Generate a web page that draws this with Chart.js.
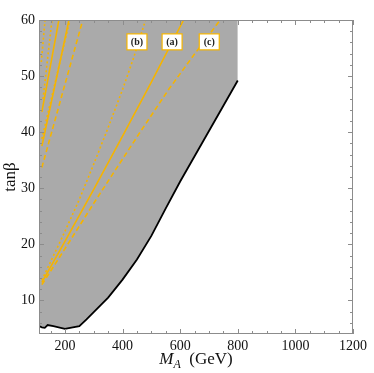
<!DOCTYPE html>
<html>
<head>
<meta charset="utf-8">
<script src="https://cdn.jsdelivr.net/npm/chart.js@4/dist/chart.umd.min.js"></script>
<style>
  html, body { margin: 0; padding: 0; background: #fff; }
  #wrap { width: 374px; height: 373px; }
</style>
</head>
<body>
<div id="wrap"><canvas id="myChart" width="374" height="373"></canvas></div>
<script>
// excluded region boundary (black line, grey above it)
const boundaryMA = [110, 120, 130, 140, 160, 200, 250, 275, 300, 350, 400, 450, 500, 550, 600, 650, 700, 750, 800];
const boundaryTanb = [5.4, 5.2, 5.1, 5.6, 5.4, 4.9, 5.4, 6.6, 7.9, 10.5, 13.7, 17.3, 21.5, 26.4, 31.2, 35.7, 40.2, 44.7, 49.2];

// lower set of orange curves
const curveB_MA = [120, 200, 250, 300, 350, 400, 440, 480];
const curveB_Tanb = [13.6, 22.3, 28.0, 34.3, 40.8, 47.6, 53.5, 60];
const curveA_MA = [120, 200, 300, 400, 500, 612];
const curveA_Tanb = [13.2, 20.5, 29.8, 39.3, 48.9, 60];
const curveC_MA = [120, 200, 311, 461, 560, 635, 739];
const curveC_Tanb = [12.8, 19.2, 28.2, 40.0, 47.6, 52.9, 60];

// upper-left set of orange curves
const upDot1_MA = [118, 131];   const upDot1_Tanb = [52.5, 60];
const upDot2_MA = [124, 155];   const upDot2_Tanb = [45.9, 60];
const upSolid1_MA = [120, 179]; const upSolid1_Tanb = [43.6, 60];
const upSolid2_MA = [120, 214]; const upSolid2_Tanb = [37.5, 60];
const upDot3_MA = [120, 217];   const upDot3_Tanb = [38.8, 60];
const upDash_MA = [120, 262];   const upDash_Tanb = [33.7, 60];

const labelText = ['(b)', '(a)', '(c)'];
const labelMA = [450, 572, 701];
const labelTanb = [56.1, 56.1, 56.1];

const xTicks = [200, 400, 600, 800, 1000, 1200];
const yTicks = [10, 20, 30, 40, 50, 60];

const orange = '#f5b400';
const pts = (xs, ys) => xs.map((x, i) => ({ x: x, y: ys[i] }));

function curve(xs, ys, dash) {
    return {
        data: pts(xs, ys),
        showLine: true,
        borderColor: orange,
        borderWidth: 1.6,
        borderDash: dash,
        pointRadius: 0,
        fill: false,
        order: 1
    };
}

const dotted = [2, 2.5];
const dashed = [5, 3];

// inside ticks on all four sides, Mathematica style frame
const frameTicks = {
    id: 'frameTicks',
    afterDatasetsDraw(chart) {
        const { ctx, chartArea: a, scales: { x, y } } = chart;
        ctx.save();
        ctx.strokeStyle = '#8c8c8c';
        ctx.lineWidth = 1;
        ctx.strokeRect(a.left + 0.5, a.top + 0.5, a.right - a.left - 1, a.bottom - a.top - 1);
        for (let v = 150; v <= 1200; v += 50) {
            const px = Math.round(x.getPixelForValue(v)) + 0.5;
            const len = v % 200 === 0 ? 5 : 3;
            ctx.beginPath();
            ctx.moveTo(px, a.bottom); ctx.lineTo(px, a.bottom - len);
            ctx.moveTo(px, a.top); ctx.lineTo(px, a.top + len);
            ctx.stroke();
        }
        for (let v = 6; v <= 60; v += 2) {
            const py = Math.round(y.getPixelForValue(v)) + 0.5;
            const len = v % 10 === 0 ? 5 : 3;
            ctx.beginPath();
            ctx.moveTo(a.left, py); ctx.lineTo(a.left + len, py);
            ctx.moveTo(a.right, py); ctx.lineTo(a.right - len, py);
            ctx.stroke();
        }
        ctx.restore();
    }
};

const boxLabels = {
    id: 'boxLabels',
    afterDatasetsDraw(chart) {
        const { ctx, scales: { x, y } } = chart;
        ctx.save();
        ctx.font = 'bold 10px "Liberation Serif"';
        ctx.textAlign = 'center';
        ctx.textBaseline = 'middle';
        labelText.forEach((t, i) => {
            const cx = x.getPixelForValue(labelMA[i]);
            const cy = y.getPixelForValue(labelTanb[i]);
            ctx.fillStyle = '#fff';
            ctx.fillRect(cx - 10, cy - 8, 20, 16);
            ctx.strokeStyle = orange;
            ctx.lineWidth = 1.2;
            ctx.strokeRect(cx - 10, cy - 8, 20, 16);
            ctx.fillStyle = '#222';
            ctx.fillText(t, cx, cy + 0.5);
        });
        ctx.restore();
    }
};

const xTitle = {
    id: 'xTitle',
    afterDraw(chart) {
        const { ctx, chartArea: a } = chart;
        const cx = (a.left + a.right) / 2;
        const by = 364;
        ctx.save();
        ctx.fillStyle = '#111';
        ctx.textBaseline = 'alphabetic';
        const fM = 'italic 17px "Liberation Serif"';
        const fA = 'italic 12px "Liberation Serif"';
        const fG = '17px "Liberation Serif"';
        ctx.font = fM; const wM = ctx.measureText('M').width;
        ctx.font = fA; const wA = ctx.measureText('A').width;
        ctx.font = fG; const wG = ctx.measureText('  (GeV)').width;
        let sx = cx - (wM + wA + wG) / 2;
        ctx.textAlign = 'left';
        ctx.font = fM; ctx.fillText('M', sx, by); sx += wM;
        ctx.font = fA; ctx.fillText('A', sx, by + 4); sx += wA;
        ctx.font = fG; ctx.fillText('  (GeV)', sx, by);
        ctx.restore();
    }
};

const ctx = document.getElementById('myChart').getContext('2d');

const myChart = new Chart(ctx, {
    type: 'scatter',
    data: {
        datasets: [
            curve(curveB_MA, curveB_Tanb, dotted),
            curve(curveA_MA, curveA_Tanb, []),
            curve(curveC_MA, curveC_Tanb, dashed),
            curve(upDot1_MA, upDot1_Tanb, dotted),
            curve(upDot2_MA, upDot2_Tanb, dotted),
            curve(upSolid1_MA, upSolid1_Tanb, []),
            curve(upSolid2_MA, upSolid2_Tanb, []),
            curve(upDot3_MA, upDot3_Tanb, dotted),
            curve(upDash_MA, upDash_Tanb, dashed),
            {
                data: pts(boundaryMA, boundaryTanb),
                showLine: true,
                borderColor: '#000',
                borderWidth: 1.8,
                backgroundColor: '#aaaaaa',
                pointRadius: 0,
                fill: 'end',
                order: 10
            }
        ]
    },
    options: {
        responsive: false,
        animation: false,
        layout: { padding: { left: 0, right: 21, top: 20, bottom: 0 } },
        plugins: {
            legend: { display: false },
            tooltip: { enabled: false }
        },
        scales: {
            x: {
                type: 'linear',
                min: 110,
                max: 1200,
                afterBuildTicks: s => { s.ticks = xTicks.map(v => ({ value: v })); },
                afterFit: s => { s.height = 39; },
                grid: { display: false, drawTicks: false },
                border: { display: false },
                ticks: {
                    padding: 4,
                    maxRotation: 0,
                    color: '#111',
                    callback: v => String(v),
                    font: { family: 'Liberation Serif', size: 14 }
                }
            },
            y: {
                type: 'linear',
                min: 4,
                max: 60,
                afterBuildTicks: s => { s.ticks = yTicks.map(v => ({ value: v })); },
                afterFit: s => { s.width = 39; },
                grid: { display: false, drawTicks: false },
                border: { display: false },
                title: {
                    display: true,
                    text: 'tanβ',
                    color: '#111',
                    padding: { top: 0, bottom: 0 },
                    font: { family: 'Liberation Serif', size: 17 }
                },
                ticks: {
                    padding: 4,
                    color: '#111',
                    callback: v => String(v),
                    font: { family: 'Liberation Serif', size: 14 }
                }
            }
        }
    },
    plugins: [frameTicks, boxLabels, xTitle]
});
</script>
</body>
</html>
